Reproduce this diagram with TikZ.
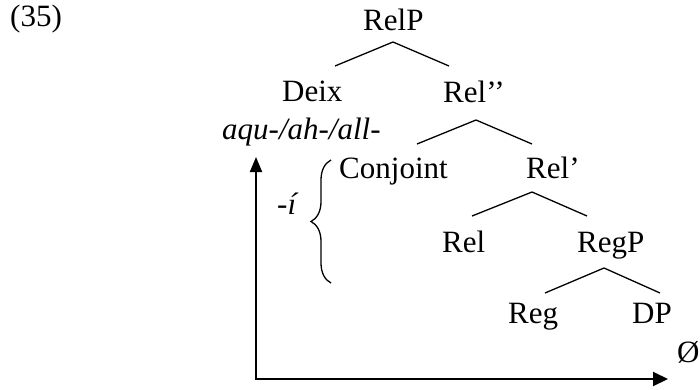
\documentclass[tikz,border=0pt]{standalone}
\usepackage{fontspec}
\setmainfont{Liberation Serif}
\usetikzlibrary{arrows.meta, decorations.pathreplacing}

\begin{document}
\begin{tikzpicture}[
    x=1pt, y=-1pt,
    % Node Styles
    word/.style={
        inner sep=0pt,
        anchor=base west,
        font=\fontsize{31}{35}\selectfont
    },
    gloss/.style={
        word,
        font=\fontsize{31}{35}\selectfont\itshape
    },
    % Line Styles
    branch/.style={
        line width=1.3pt
    },
    axis/.style={
        line width=2pt,
        {Triangle[width=12pt,length=15pt]}-{Triangle[width=14pt,length=15pt]}
    },
    bracket/.style={
        line width=1.3pt,
        decorate,
        decoration={brace, amplitude=20pt}
    }
]
    \useasboundingbox (0,0) rectangle (700,390);

    % --- Example number ---
    \node[word] (exnum) at (10,27) {(35)};

    % --- Tree labels ---
    \node[word] (relp) at (363,31) {RelP};
    \node[word] (deix) at (282,102) {Deix};
    \node[word] (relbarbar) at (443,103) {Rel’’};
    \node[gloss] (deixgloss) at (222,140) {aqu-/ah-/all-};
    \node[word] (conj) at (339,178) {Conjoint};
    \node[word] (relbar) at (526,178) {Rel’};
    \node[word] (rel) at (442,252) {Rel};
    \node[word] (regp) at (577,252) {RegP};
    \node[word] (reg) at (508,323) {Reg};
    \node[word] (dp) at (632,323) {DP};
    \node[word] (empty) at (677,362) {Ø};
    \node[gloss] (conjgloss) at (277,214) {-í};

    % --- Branch points ---
    \coordinate (a1) at (393,42);
    \coordinate (l1) at (335,66);
    \coordinate (r1) at (449,66);
    \coordinate (a2) at (476,120);
    \coordinate (l2) at (417,144);
    \coordinate (r2) at (532,144);
    \coordinate (a3) at (532,192);
    \coordinate (l3) at (472,216);
    \coordinate (r3) at (587,216);
    \coordinate (a4) at (604,268);
    \coordinate (l4) at (545,293);
    \coordinate (r4) at (660,293);

    % Draw the branches
    \draw[branch] (l1) -- (a1) -- (r1);
    \draw[branch] (l2) -- (a2) -- (r2);
    \draw[branch] (l3) -- (a3) -- (r3);
    \draw[branch] (l4) -- (a4) -- (r4);

    % --- Brace for the conjoint ---
    \coordinate (brbot) at (331,283);
    \coordinate (brtop) at (331,160);
    \draw[bracket] (brbot) -- (brtop);

    % --- Axes ---
    \coordinate (origin) at (256,379);
    \coordinate (ytip) at (256,157);
    \coordinate (xtip) at (668,379);
    \draw[axis] (ytip) -- (origin) -- (xtip);

\end{tikzpicture}
\end{document}
